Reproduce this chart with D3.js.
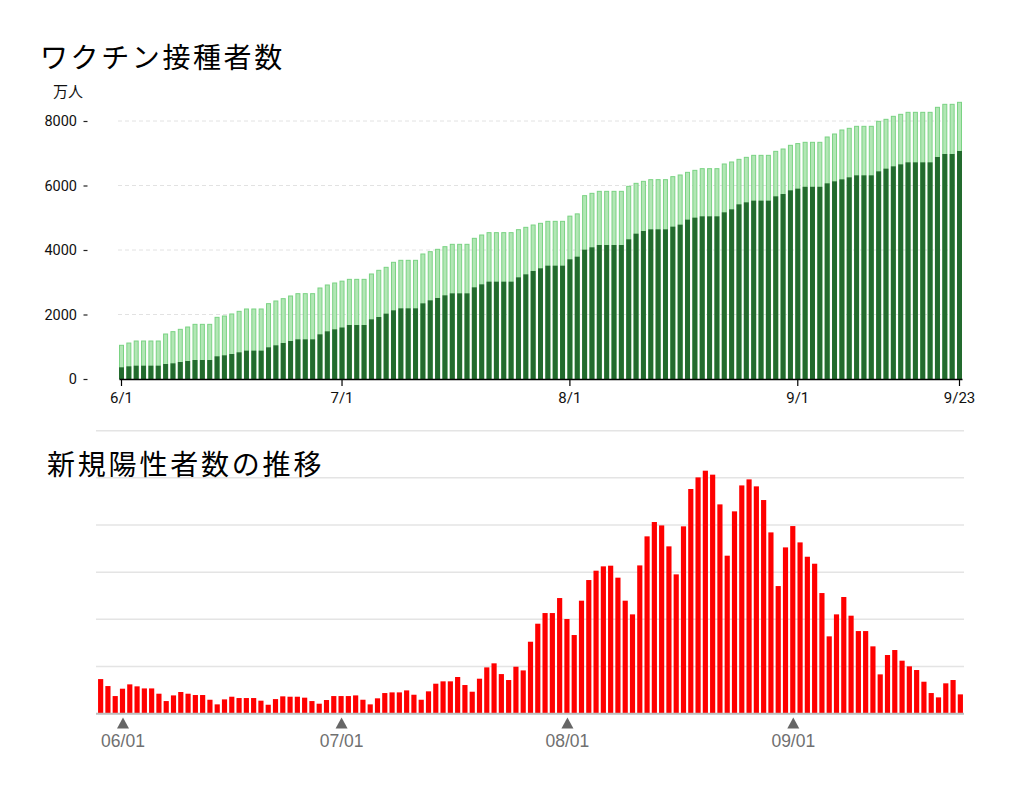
<!DOCTYPE html>
<html><head><meta charset="utf-8">
<script src="https://cdn.jsdelivr.net/npm/d3@7"></script>
<style>
html,body{margin:0;padding:0;background:#fff;}
svg{display:block;}
</style></head>
<body>
<svg id="chart" width="1020" height="791"></svg>
<script>
// ---------- DATA ----------
const vaccineTitle = "ワクチン接種者数";
const casesTitle = "新規陽性者数の推移";
const vaccineUnit = "万人";
const vaccineYTicks = [0, 2000, 4000, 6000, 8000];
const vaccineXTickKeys = ["6/1", "7/1", "8/1", "9/1", "9/23"];
const casesXTickKeys = ["06/01", "07/01", "08/01", "09/01"];
const casesGridValues = [5000, 10000, 15000, 20000, 25000, 30000];

// cumulative, 万人, 6/1 .. 9/23
const firstDose = [
 1045,1115,1178,1178,1178,1178,1395,1468,1540,1612,1695,1695,1695,1912,1953,2016,2098,2171,2171,2171,
 2336,2419,2491,2574,2646,2646,2646,2822,2915,2977,3034,3090,3090,3090,3256,3370,3463,3618,3680,3680,
 3680,3876,3948,4021,4103,4176,4176,4176,4362,4465,4538,4538,4538,4538,4630,4703,4775,4827,4889,4889,
 4889,5050,5120,5685,5757,5819,5819,5819,5819,5974,6067,6129,6181,6181,6181,6274,6326,6408,6470,6522,
 6522,6522,6667,6729,6811,6873,6935,6935,6935,7059,7132,7246,7300,7339,7339,7339,7504,7597,7721,7773,
 7835,7835,7835,7990,8052,8145,8207,8269,8269,8269,8269,8424,8517,8517,8579
];
const secondDose = [
 362,393,413,413,413,413,465,486,527,558,589,589,589,703,734,775,827,879,879,879,
 982,1044,1116,1178,1230,1230,1230,1385,1478,1540,1597,1674,1674,1674,1850,1922,2026,2129,2191,2191,
 2191,2346,2439,2512,2594,2656,2656,2656,2842,2935,3018,3018,3018,3018,3152,3245,3349,3432,3514,3514,
 3514,3711,3793,4010,4083,4155,4155,4155,4155,4331,4506,4589,4641,4641,4641,4724,4786,4941,5003,5044,
 5044,5044,5168,5261,5416,5478,5530,5530,5530,5664,5736,5850,5902,5960,5960,5960,6067,6129,6191,6253,
 6315,6315,6315,6439,6522,6594,6656,6718,6718,6718,6718,6884,6977,6977,7070
];
// daily new cases, 5/29 .. 9/24
const newCases = [
 3670,2930,1870,2650,3110,2900,2680,2680,2120,1340,1940,2300,2120,1980,1980,1480,990,1520,1800,1660,
 1660,1660,1380,950,1550,1840,1800,1800,1700,1340,1060,1450,1870,1870,1870,1940,1480,990,1630,2190,
 2260,2260,2470,2010,1480,2370,3180,3430,3430,3890,3040,2330,3710,4910,5340,4200,3570,4980,4590,7630,
 9540,10670,10670,12260,10040,8340,11980,14170,15160,15620,15690,14420,11980,10530,15720,18800,20320,19960,17740,14770,
 19860,23820,25050,25760,25340,22190,16750,21450,24200,24840,24100,22650,19220,13530,17630,19890,18160,16640,15900,12790,
 8200,10530,12370,10390,8760,8760,7140,4170,6220,6750,5620,5020,4630,3390,2190,1730,3220,3570,2050
];

// categories (dates)
const fmtTop = d3.timeFormat("%-m/%-d");
const fmtBot = d3.timeFormat("%m/%d");
const vaccineDates = d3.timeDay.range(new Date(2021,5,1), new Date(2021,8,24)).map(fmtTop);
const casesDates = d3.timeDay.range(new Date(2021,4,29), new Date(2021,8,25)).map(fmtBot);

const svg = d3.select("#chart");

// ---------- TOP: vaccine ----------
const jpFont = "'Noto Sans CJK JP','Noto Sans',sans-serif";
svg.append("text").attr("x", 40).attr("y", 68)
  .attr("font-family", jpFont).attr("font-size", 28).attr("letter-spacing", 2.6)
  .attr("fill", "#000").text(vaccineTitle);
svg.append("text").attr("x", 53).attr("y", 97)
  .attr("font-family", jpFont).attr("font-size", 15).attr("fill", "#111").text(vaccineUnit);

const xTop = d3.scaleBand().domain(vaccineDates).range([119, 962]).paddingInner(0.32).paddingOuter(0);
const yTop = d3.scaleLinear().domain([0, 8000]).range([379, 121]);

// gridlines
svg.append("g").selectAll("line").data(vaccineYTicks.filter(d => d > 0)).join("line")
  .attr("x1", 118).attr("x2", 960)
  .attr("y1", d => yTop(d)).attr("y2", d => yTop(d))
  .attr("stroke", "#e2e2e2").attr("stroke-width", 1).attr("stroke-dasharray", "4,3");

const rows = vaccineDates.map((d, i) => ({date: d, first: firstDose[i], second: secondDose[i]}));
const bw = xTop.bandwidth();
svg.append("g").selectAll("rect").data(rows).join("rect")
  .attr("x", d => xTop(d.date) + 0.5).attr("width", bw - 1)
  .attr("y", d => yTop(d.first)).attr("height", d => yTop(0) - yTop(d.first))
  .attr("fill", "#b2e6b5").attr("stroke", "#7ad383").attr("stroke-width", 1);
svg.append("g").selectAll("rect").data(rows).join("rect")
  .attr("x", d => xTop(d.date)).attr("width", bw)
  .attr("y", d => yTop(d.second)).attr("height", d => yTop(0) - yTop(d.second))
  .attr("fill", "#236b2e");

// y axis
const yAxisG = svg.append("g").attr("transform", "translate(87.5,0)")
  .call(d3.axisLeft(yTop).tickValues(vaccineYTicks).tickFormat(d3.format("d")).tickSize(4).tickPadding(6.5));
yAxisG.select(".domain").remove();
yAxisG.selectAll(".tick line").attr("stroke", "#222").attr("stroke-width", 1.2);
yAxisG.selectAll(".tick text").attr("font-family", "Roboto, sans-serif").attr("font-size", 14.5).attr("fill", "#111");

// x axis
const xAxisG = svg.append("g").attr("transform", "translate(0,379)")
  .call(d3.axisBottom(xTop).tickValues(vaccineXTickKeys).tickSize(7).tickPadding(6.5).tickSizeOuter(0));
xAxisG.select(".domain").attr("stroke", "#000").attr("stroke-width", 1.5);
xAxisG.selectAll(".tick line").attr("stroke", "#000").attr("stroke-width", 1.2);
xAxisG.selectAll(".tick text").attr("font-family", "Roboto, sans-serif").attr("font-size", 15).attr("fill", "#111");

// ---------- BOTTOM: cases ----------
const xBot = d3.scaleBand().domain(casesDates).range([97, 964]).paddingInner(0.29).paddingOuter(0.145);
const yBot = d3.scaleLinear().domain([0, 30000]).range([713.7, 430.7]);

svg.append("g").selectAll("line").data(casesGridValues).join("line")
  .attr("x1", 96).attr("x2", 964)
  .attr("y1", d => yBot(d)).attr("y2", d => yBot(d))
  .attr("stroke", "#e4e4e4").attr("stroke-width", 1.5);

svg.append("text").attr("x", 47).attr("y", 474.5)
  .attr("font-family", jpFont).attr("font-size", 28).attr("letter-spacing", 2.8)
  .attr("fill", "#000").text(casesTitle);

const caseRows = casesDates.map((d, i) => ({date: d, v: newCases[i]}));
svg.append("g").selectAll("rect").data(caseRows).join("rect")
  .attr("x", d => xBot(d.date)).attr("width", xBot.bandwidth())
  .attr("y", d => yBot(d.v)).attr("height", d => yBot(0) - yBot(d.v))
  .attr("fill", "#ff0000");

svg.append("line").attr("x1", 96).attr("x2", 964)
  .attr("y1", yBot(0)).attr("y2", yBot(0))
  .attr("stroke", "#bdbdbd").attr("stroke-width", 2);

const tickG = svg.append("g").selectAll("g").data(casesXTickKeys).join("g")
  .attr("transform", d => `translate(${xBot(d) + xBot.bandwidth() / 2 + 0.5},0)`);
tickG.append("path").attr("d", "M-6,728.5L6,728.5L0,717.5Z").attr("fill", "#666");
tickG.append("text").attr("y", 747).attr("text-anchor", "middle")
  .attr("font-family", "'Liberation Sans', Arial, sans-serif").attr("font-size", 17.5)
  .attr("fill", "#707070").text(d => d);
</script>
</body></html>
